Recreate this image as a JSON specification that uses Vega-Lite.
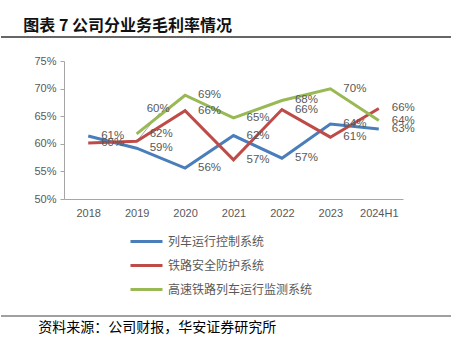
{
  "$schema": "https://vega.github.io/schema/vega-lite/v6.json",
  "padding": {"left": 0, "top": 18, "right": 0, "bottom": 0},
  "background": "white",
  "spacing": 17,
  "config": {"view": {"stroke": null}, "concat": {"spacing": 17}},
  "datasets": {
    "margins": [
      {"series": "列车运行控制系统", "period": "2018", "value": 0.614},
      {"series": "列车运行控制系统", "period": "2019", "value": 0.592},
      {"series": "列车运行控制系统", "period": "2020", "value": 0.556},
      {"series": "列车运行控制系统", "period": "2021", "value": 0.615},
      {"series": "列车运行控制系统", "period": "2022", "value": 0.574},
      {"series": "列车运行控制系统", "period": "2023", "value": 0.636},
      {"series": "列车运行控制系统", "period": "2024H1", "value": 0.627},
      {"series": "铁路安全防护系统", "period": "2018", "value": 0.6015},
      {"series": "铁路安全防护系统", "period": "2019", "value": 0.6045},
      {"series": "铁路安全防护系统", "period": "2020", "value": 0.660},
      {"series": "铁路安全防护系统", "period": "2021", "value": 0.571},
      {"series": "铁路安全防护系统", "period": "2022", "value": 0.662},
      {"series": "铁路安全防护系统", "period": "2023", "value": 0.612},
      {"series": "铁路安全防护系统", "period": "2024H1", "value": 0.664},
      {"series": "高速铁路列车运行监测系统", "period": "2019", "value": 0.618},
      {"series": "高速铁路列车运行监测系统", "period": "2020", "value": 0.688},
      {"series": "高速铁路列车运行监测系统", "period": "2021", "value": 0.647},
      {"series": "高速铁路列车运行监测系统", "period": "2022", "value": 0.6785},
      {"series": "高速铁路列车运行监测系统", "period": "2023", "value": 0.6996},
      {"series": "高速铁路列车运行监测系统", "period": "2024H1", "value": 0.642}
    ],
    "frame": [{"v": 0}]
  },
  "vconcat": [
    {
      "width": 450,
      "height": 1,
      "title": {"text": "图表 7 公司分业务毛利率情况", "anchor": "start", "dx": 23, "offset": 2, "fontSize": 16, "font": "Noto Sans CJK SC", "fontWeight": "bold", "color": "#111111"},
      "data": {"name": "frame"},
      "mark": {"type": "rule", "color": "#333333", "strokeWidth": 1.5},
      "encoding": {
        "y": {"field": "v", "type": "quantitative", "scale": {"domain": [0, 1]}, "axis": null}
      }
    },
    {
      "width": 450,
      "height": 138,
      "data": {"name": "margins"},
      "encoding": {
        "x": {
          "field": "period", "type": "ordinal",
          "sort": ["2018", "2019", "2020", "2021", "2022", "2023", "2024H1"],
          "scale": {"type": "point", "padding": 0.5, "range": [63, 402]},
          "axis": {"title": null, "labelAngle": 0, "ticks": false, "domainColor": "#A6A6A6", "domainWidth": 1, "labelColor": "#595959", "labelFontSize": 11, "labelFont": "Liberation Sans", "labelPadding": 8, "minExtent": 98.5}
        },
        "y": {
          "field": "value", "type": "quantitative",
          "scale": {"domain": [0.5, 0.75], "nice": false, "zero": false},
          "axis": {"title": null, "format": ".0%", "values": [0.5, 0.55, 0.6, 0.65, 0.7, 0.75], "grid": false, "offset": -63, "tickSize": 4, "tickColor": "#A6A6A6", "domainColor": "#A6A6A6", "labelColor": "#595959", "labelFontSize": 11, "labelFont": "Liberation Sans", "labelPadding": 4}
        }
      },
      "layer": [
        {
          "transform": [{"filter": "datum.series == '铁路安全防护系统' && datum.period == '2019'"}],
          "mark": {"type": "rule", "color": "#A6A6A6", "strokeWidth": 1, "x2Offset": 23},
          "encoding": {"x2": {"field": "period"}, "y2": {"datum": 0.6555}}
        },
        {
          "mark": {"type": "line", "strokeWidth": 3},
          "encoding": {
            "color": {
              "field": "series", "type": "nominal",
              "scale": {"domain": ["列车运行控制系统", "铁路安全防护系统", "高速铁路列车运行监测系统"], "range": ["#4A7EBB", "#BE4B48", "#98B954"]},
              "legend": {"title": null, "orient": "none", "direction": "vertical", "legendX": 128, "legendY": 188, "padding": 0, "symbolType": "stroke", "symbolSize": 1024, "symbolStrokeWidth": 3, "labelOffset": 4, "rowPadding": -0.4, "labelFont": "Noto Sans CJK SC", "labelFontSize": 12, "labelColor": "#595959"}
            }
          }
        },
        {
          "transform": [{"filter": "!(datum.series == '铁路安全防护系统' && datum.period == '2019')"}],
          "mark": {"type": "text", "align": "left", "baseline": "middle", "dx": 13, "font": "Liberation Sans", "fontSize": 11.5, "color": "#595959"},
          "encoding": {"text": {"field": "value", "type": "quantitative", "format": ".0%"}}
        },
        {
          "transform": [{"filter": "datum.series == '铁路安全防护系统' && datum.period == '2019'"}],
          "mark": {"type": "text", "align": "left", "baseline": "middle", "dx": 10, "dy": -32, "font": "Liberation Sans", "fontSize": 11.5, "color": "#595959"},
          "encoding": {"text": {"field": "value", "type": "quantitative", "format": ".0%"}}
        }
      ]
    },
    {
      "width": 450,
      "height": 1,
      "title": {"text": "资料来源：公司财报，华安证券研究所", "orient": "bottom", "anchor": "start", "dx": 38, "offset": 4, "fontSize": 14, "fontWeight": "normal", "font": "Noto Sans CJK SC", "color": "#000000"},
      "data": {"name": "frame"},
      "mark": {"type": "rule", "color": "#808080", "strokeWidth": 1.5},
      "encoding": {
        "y": {"field": "v", "type": "quantitative", "scale": {"domain": [0, 1], "reverse": true}, "axis": null}
      }
    }
  ]
}
